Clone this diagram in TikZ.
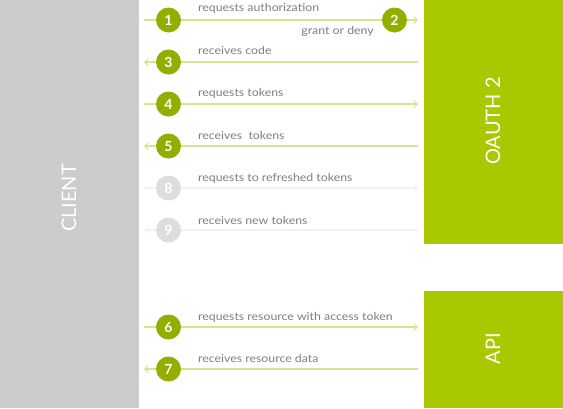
\documentclass[tikz,border=0pt]{standalone}
\usepackage{fontspec}
\setmainfont{Lato}
\newfontfamily\lblfont[FakeStretch=1.12]{Lato}
\usetikzlibrary{arrows.meta}
\definecolor{cgray}{HTML}{CCCCCC}
\definecolor{ogreen}{HTML}{AAC800}
\definecolor{dgreen}{HTML}{93AE00}
\definecolor{lgreen}{HTML}{D6E48C}
\definecolor{lgrayline}{HTML}{F2F2F2}
\definecolor{lgraycirc}{HTML}{DDDDDD}
\definecolor{txtgray}{HTML}{7F7F7F}
\tikzset{
  stepnum/.style={circle, fill=dgreen, minimum size=25pt, inner sep=0pt, text=white, font=\fontsize{14}{14}\selectfont\bfseries},
  stepnumoff/.style={stepnum, fill=lgraycirc},
  flow/.style={draw=lgreen, line width=1.5pt},
  flowoff/.style={draw=lgrayline, line width=1.5pt},
  tipr/.style={-{Straight Barb[length=3.5pt,width=7pt,line width=1pt]}},
  tipl/.style={{Straight Barb[length=3.5pt,width=7pt,line width=1pt]}-},
  lbl/.style={anchor=west, text=txtgray, font=\lblfont\fontsize{11}{11}\selectfont, inner sep=0pt},
  sidelbl/.style={text=white, rotate=90, font=\fontsize{20}{20}\selectfont},
}
\begin{document}
\begin{tikzpicture}[x=1pt,y=-1pt]
\useasboundingbox (0,0) rectangle (563,408);
\fill[white] (0,0) rectangle (563,408);
% panels
\fill[cgray] (0,0) rectangle (139,408);
\fill[ogreen] (424,0) rectangle (563,244);
\fill[ogreen] (424,291) rectangle (563,408);
\node[sidelbl] (client) at (69,198) {CLIENT};
\node[sidelbl] (oauth) at (493,121) {OAUTH 2};
\node[sidelbl] (api) at (493,348.5) {API};
% end points
\foreach \n/\y in {1/20,3/62,4/104,5/146,8/188,9/230,6/327,7/369}{
  \coordinate (l\n) at (144,\y);
  \coordinate (r\n) at (418,\y);
}
% circles
\node[stepnum] (c1) at (168.5,20) {1};
\node[stepnum] (c2) at (394.5,20) {2};
\node[stepnum] (c3) at (168.5,62) {3};
\node[stepnum] (c4) at (168.5,104) {4};
\node[stepnum] (c5) at (168.5,146) {5};
\node[stepnumoff] (c8) at (168.5,188) {8};
\node[stepnumoff] (c9) at (168.5,230) {9};
\node[stepnum] (c6) at (168.5,327) {6};
\node[stepnum] (c7) at (168.5,369) {7};
% connectors
\draw[flow] (l1) -- (c1);
\draw[flow] (c1) -- (c2);
\draw[flow,tipr] (c2) -- (r1);
\draw[flow,tipl] (l3) -- (c3);
\draw[flow] (c3) -- (r3);
\draw[flow] (l4) -- (c4);
\draw[flow,tipr] (c4) -- (r4);
\draw[flow,tipl] (l5) -- (c5);
\draw[flow] (c5) -- (r5);
\draw[flowoff] (l8) -- (c8);
\draw[flowoff,tipr] (c8) -- (r8);
\draw[flowoff,tipl] (l9) -- (c9);
\draw[flowoff] (c9) -- (r9);
\draw[flow] (l6) -- (c6);
\draw[flow,tipr] (c6) -- (r6);
\draw[flow,tipl] (l7) -- (c7);
\draw[flow] (c7) -- (r7);
% labels
\node[lbl] (t1) at (198,8) {requests authorization};
\node[lbl,anchor=east] (t2) at (374,31.5) {grant or deny};
\node[lbl] (t3) at (198,50) {receives code};
\node[lbl] (t4) at (198,93) {requests tokens};
\node[lbl] (t5) at (198,135) {receives\ \ tokens};
\node[lbl] (t8) at (198,178) {requests to refreshed tokens};
\node[lbl] (t9) at (198,220) {receives new tokens};
\node[lbl] (t6) at (198,317) {requests resource with access token};
\node[lbl] (t7) at (198,358) {receives resource data};
\end{tikzpicture}
\end{document}
